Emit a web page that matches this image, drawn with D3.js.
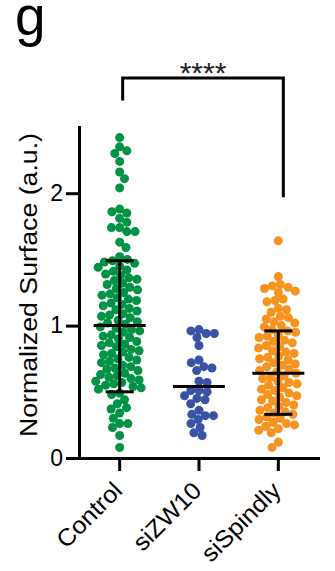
<!DOCTYPE html>
<head>
<meta charset="utf-8">
<script src="https://d3js.org/d3.v7.min.js"></script>
<style>
  body { margin: 0; background: #fff; }
  text { font-family: "Liberation Sans", Arial, Helvetica, sans-serif; }
</style>
</head>
<body>
<script>
const width = 335, height = 571;

const groups = ["Control", "siZW10", "siSpindly"];
const colors = ["#009245", "#3953a4", "#f7931e"];

// values, one per dot
const controlVals = [2.42, 2.35, 2.32, 2.30, 2.24, 2.16, 2.11, 2.04, 1.88, 1.86, 1.85, 1.81, 1.78,
  1.74, 1.74, 1.71, 1.71, 1.63, 1.59, 1.52, 1.50, 1.49, 1.48, 1.47,
  1.45, 1.44, 1.42, 1.41, 1.39, 1.38, 1.36, 1.35, 1.34, 1.32, 1.31, 1.29, 1.28, 1.27, 1.25,
  1.24, 1.23, 1.21, 1.20, 1.19, 1.17, 1.16, 1.15, 1.13, 1.12, 1.11, 1.09, 1.08, 1.07, 1.06,
  1.04, 1.03, 1.02, 1.01, 0.99, 0.98, 0.97, 0.96, 0.95, 0.93, 0.92, 0.91, 0.90, 0.88, 0.87,
  0.86, 0.85, 0.84, 0.82, 0.81, 0.80, 0.79, 0.78, 0.76, 0.75, 0.74, 0.73, 0.72, 0.70, 0.69,
  0.68, 0.67, 0.66, 0.64, 0.63, 0.62, 0.61, 0.60, 0.59, 0.58, 0.57, 0.56, 0.55, 0.54, 0.53,
  0.52, 0.49, 0.48, 0.44, 0.41, 0.38, 0.37, 0.34, 0.30, 0.26, 0.26, 0.23, 0.17, 0.08];
const zw10Vals = [0.97, 0.96, 0.94, 0.94, 0.91, 0.85, 0.74, 0.72, 0.69, 0.68, 0.66, 0.58, 0.57,
  0.51, 0.51, 0.50, 0.47, 0.45, 0.44, 0.41, 0.36, 0.33, 0.32, 0.32, 0.29, 0.26, 0.23, 0.19, 0.17];
const spindlyVals = [1.64, 1.37, 1.31, 1.30, 1.29, 1.28, 1.26, 1.25, 1.20, 1.19, 1.18, 1.13, 1.12,
  1.10, 1.07, 1.06, 1.05, 1.03, 1.02, 1.00, 0.99, 0.97, 0.96, 0.95, 0.93, 0.92, 0.91, 0.89,
  0.88, 0.87, 0.85, 0.84, 0.83, 0.81, 0.80, 0.79, 0.77, 0.76, 0.75, 0.74, 0.72, 0.71, 0.70,
  0.69, 0.67, 0.66, 0.65, 0.64, 0.62, 0.61, 0.60, 0.58, 0.57, 0.56, 0.55, 0.53, 0.52, 0.51,
  0.49, 0.48, 0.47, 0.46, 0.44, 0.43, 0.42, 0.40, 0.39, 0.38, 0.36, 0.35, 0.34, 0.33, 0.31,
  0.30, 0.29, 0.27, 0.26, 0.25, 0.24, 0.22, 0.21, 0.19, 0.12, 0.08];

// mean and SD whiskers as drawn (siZW10 shows only its mean)
const means = [1.00, 0.54, 0.64];
const sdLow = [0.50, null, 0.33];
const sdHigh = [1.49, null, 0.96];

const yTicks = [0, 1, 2];
const yLabel = "Normalized Surface (a.u.)";
const panel = "g";
const stars = "****";
// bracket ends in data units: top, left foot, right foot
const bracket = [2.87, 2.70, 1.97];

const svg = d3.select("body").append("svg")
    .attr("width", width)
    .attr("height", height);

const x = d3.scaleBand().domain(groups).range([80, 318]);
const y = d3.scaleLinear().domain([0, 2.5]).range([458, 127]);
const cx = g => x(g) + x.bandwidth() / 2;

// simple beeswarm: each dot goes as near the centre as it can without overlapping
function swarm(values, d) {
    const pts = values.map(v => ({ v: v, y: y(v) })).sort((a, b) => a.y - b.y);
    const placed = [];
    pts.forEach((p, i) => {
        const near = placed.filter(q => Math.abs(q.y - p.y) < d);
        let cands = [0];
        near.forEach(q => {
            const dx = Math.sqrt(d * d - (q.y - p.y) ** 2);
            cands.push(q.dx + dx, q.dx - dx);
        });
        const sgn = i % 2 ? 1 : -1;
        cands.sort((a, b) => Math.abs(a) - Math.abs(b) || sgn * (a - b));
        p.dx = cands.find(c => near.every(q => (q.dx - c) ** 2 + (q.y - p.y) ** 2 >= d * d - 0.01));
        placed.push(p);
    });
    return placed;
}

const series = [controlVals, zw10Vals, spindlyVals];

series.forEach((vals, i) => {
    svg.append("g").selectAll("circle")
        .data(swarm(vals, 8.2))
        .join("circle")
        .attr("cx", d => cx(groups[i]) + d.dx)
        .attr("cy", d => d.y)
        .attr("r", 4.5)
        .attr("fill", colors[i]);
});

// error bars
const bars = svg.append("g").attr("stroke", "#000").attr("stroke-width", 3);
groups.forEach((g, i) => {
    const c = cx(g);
    bars.append("line").attr("x1", c - 26).attr("x2", c + 26)
        .attr("y1", y(means[i])).attr("y2", y(means[i]));
    if (sdLow[i] != null) {
        bars.append("line").attr("x1", c).attr("x2", c)
            .attr("y1", y(sdLow[i])).attr("y2", y(sdHigh[i]));
        [sdLow[i], sdHigh[i]].forEach(v => {
            bars.append("line").attr("x1", c - 14).attr("x2", c + 14)
                .attr("y1", y(v)).attr("y2", y(v));
        });
    }
});

// axes
const yAxis = svg.append("g")
    .attr("transform", "translate(79,0)")
    .call(d3.axisLeft(y).tickValues(yTicks).tickFormat(d3.format("d")).tickSize(13).tickSizeOuter(0).tickPadding(3));
const xAxis = svg.append("g")
    .attr("transform", "translate(0,458)")
    .call(d3.axisBottom(x).tickSize(13).tickSizeOuter(0));

[yAxis, xAxis].forEach(a => {
    a.attr("font-family", null).attr("font-size", 23);
    a.select(".domain").attr("stroke-width", 3).attr("stroke-linecap", "square");
    a.selectAll(".tick line").attr("stroke-width", 3);
    a.selectAll("text").attr("fill", "#000");
});

xAxis.selectAll(".tick text")
    .attr("x", 0).attr("y", 0).attr("dy", 0)
    .attr("font-size", 24)
    .attr("transform", "translate(4,34) rotate(-45) scale(1.05,1)")
    .attr("text-anchor", "end");

// y label
svg.append("text")
    .attr("transform", "translate(37,285) rotate(-90)")
    .attr("text-anchor", "middle")
    .attr("font-size", 23)
    .attr("textLength", 304)
    .attr("lengthAdjust", "spacingAndGlyphs")
    .text(yLabel);

// panel letter
svg.append("text")
    .attr("x", 15).attr("y", 35)
    .attr("font-size", 55)
    .text(panel);

// significance bracket
const bx1 = cx("Control") + 3, bx2 = cx("siSpindly") + 5;
svg.append("path")
    .attr("d", `M${bx1},${y(bracket[1])}V${y(bracket[0])}H${bx2}V${y(bracket[2])}`)
    .attr("fill", "none")
    .attr("stroke", "#000")
    .attr("stroke-width", 3);
svg.append("text")
    .attr("x", (bx1 + bx2) / 2).attr("y", 83)
    .attr("text-anchor", "middle")
    .attr("font-size", 30)
    .attr("fill", "#222")
    .text(stars);
</script>
</body>
